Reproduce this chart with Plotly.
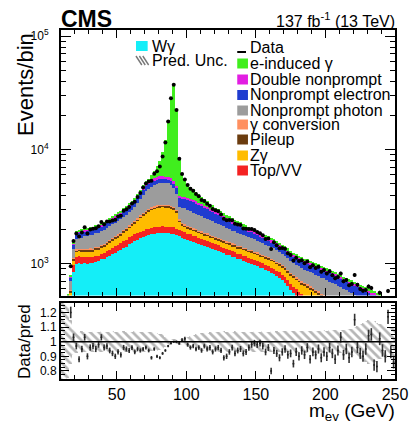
import math
import plotly.graph_objects as go

# ---------------- data (2 GeV bins from 10 to 250 GeV) ----------------
mass = list(range(11, 250, 2))  # bin centres

w_gamma = [60, 150, 300, 420, 840, 995, 1010, 990, 1000, 995,
           1005, 1000, 1035, 1045, 1085, 1100, 1145, 1165, 1210, 1240,
           1280, 1315, 1375, 1410, 1480, 1515, 1575, 1600, 1665, 1700,
           1745, 1770, 1805, 1815, 1845, 1845, 1860, 1845, 1850, 1830,
           1815, 1765, 1735, 1685, 1655, 1605, 1580, 1540, 1520, 1480,
           1460, 1420, 1400, 1360, 1345, 1305, 1285, 1250, 1230, 1195,
           1180, 1145, 1130, 1095, 1085, 1050, 1040, 1005, 995, 965,
           950, 920, 905, 875, 860, 825, 810, 770, 750, 710,
           680, 630, 580, 550, 520, 495, 470, 450, 440, 420,
           405, 388, 374, 354, 342, 324, 314, 298, 290, 274,
           266, 253, 246, 234, 229, 218, 213, 202, 198, 188,
           184, 175, 172, 163, 160, 152, 150, 142, 140, 132]

top_vv = [15, 30, 55, 80, 130, 150, 145, 140, 142, 138,
          140, 134, 133, 124, 123, 127, 139, 156, 166, 184,
          188, 200, 204, 214, 216, 226, 228, 238, 240, 250,
          253, 258, 262, 265, 267, 268, 268, 266, 264, 262,
          258, 252, 246, 240, 234, 228, 222, 216, 210, 204,
          198, 192, 186, 180, 174, 168, 162, 156, 150, 145,
          140, 136, 132, 128, 124, 120, 117, 114, 111, 108,
          105, 102, 100, 98, 96, 94, 92, 90, 88, 86,
          84, 82, 80, 77, 74, 71, 68, 65, 62, 60,
          58, 56, 54, 52, 50, 48, 47, 45, 44, 42,
          41, 40, 38, 37, 36, 35, 34, 33, 32, 31,
          30, 29, 28, 27, 26, 25, 24, 23, 22, 21]

z_gamma = [10, 22, 40, 60, 100, 118, 122, 124, 125, 126,
           128, 132, 138, 145, 152, 160, 170, 182, 195, 208,
           222, 240, 262, 295, 335, 385, 440, 510, 590, 670,
           750, 820, 880, 925, 955, 975, 985, 985, 975, 950,
           900, 780, 330, 230, 195, 180, 170, 163, 158, 155,
           152, 150, 148, 147, 146, 145, 144, 143, 142, 141,
           140, 139, 138, 137, 136, 135, 134, 133, 132, 131,
           130, 129, 128, 127, 126, 125, 124, 123, 122, 121,
           120, 119, 118, 117, 116, 115, 114, 113, 112, 110,
           108, 106, 104, 102, 100, 98, 96, 94, 92, 90,
           88, 86, 84, 82, 80, 78, 76, 74, 72, 70,
           68, 66, 64, 62, 60, 58, 56, 54, 52, 50]

pileup = [3, 7, 12, 18, 38, 50, 55, 60, 62, 64,
          65, 66, 67, 68, 70, 72, 74, 76, 78, 80,
          83, 86, 90, 94, 98, 102, 106, 110, 114, 118,
          121, 124, 127, 129, 130, 131, 131, 130, 128, 125,
          120, 112, 100, 95, 92, 90, 88, 86, 84, 82,
          80, 78, 76, 74, 72, 70, 68, 66, 64, 62,
          60, 58, 57, 56, 55, 54, 53, 52, 51, 50,
          49, 48, 47, 46, 45, 44, 43, 42, 41, 40,
          39, 38, 37, 36, 35, 34, 33, 32, 31, 30,
          29, 28, 27, 26, 25, 25, 24, 23, 23, 22,
          21, 21, 20, 20, 19, 19, 18, 18, 17, 17,
          16, 16, 15, 15, 14, 14, 13, 13, 12, 12]

conversion = [2, 4, 6, 8, 14, 18, 20, 20, 20, 21,
              21, 21, 22, 22, 23, 24, 25, 26, 27, 28,
              29, 30, 31, 32, 33, 34, 36, 38, 40, 42,
              44, 46, 48, 49, 50, 50, 50, 49, 48, 46,
              44, 42, 38, 36, 34, 33, 32, 31, 30, 29,
              28, 27, 26, 25, 25, 24, 24, 23, 23, 22,
              22, 21, 21, 20, 20, 19, 19, 18, 18, 17,
              17, 17, 16, 16, 15, 15, 15, 14, 14, 14,
              13, 13, 13, 12, 12, 12, 11, 11, 11, 10,
              10, 10, 10, 9, 9, 9, 9, 8, 8, 8,
              8, 8, 7, 7, 7, 7, 7, 6, 6, 6,
              6, 6, 6, 5, 5, 5, 5, 5, 5, 5]

np_photon = [15, 35, 70, 110, 220, 300, 335, 355, 390, 400,
             425, 425, 445, 450, 475, 485, 510, 515, 540, 548,
             570, 580, 610, 625, 665, 700, 775, 875, 1015, 1250,
             1400, 1480, 1590, 1670, 1770, 1790, 1830, 1800, 1790, 1710,
             1450, 1150, 700, 780, 840, 820, 800, 760, 740, 700,
             690, 650, 640, 605, 595, 565, 555, 525, 515, 485,
             475, 450, 445, 420, 415, 395, 392, 375, 372, 355,
             330, 320, 312, 300, 292, 282, 272, 262, 250, 240,
             232, 226, 220, 218, 216, 214, 212, 210, 210, 208,
             214, 206, 212, 204, 214, 206, 204, 200, 198, 192,
             192, 184, 186, 176, 176, 170, 170, 160, 162, 154,
             154, 146, 148, 140, 142, 134, 136, 128, 130, 122]

np_electron = [8, 18, 35, 60, 130, 175, 180, 188, 186, 192,
               190, 197, 196, 203, 204, 212, 216, 230, 238, 255,
               260, 278, 288, 308, 318, 338, 352, 383, 402, 432,
               448, 462, 458, 452, 438, 432, 418, 412, 398, 402,
               420, 470, 620, 660, 690, 700, 700, 690, 660, 630,
               600, 570, 540, 510, 480, 450, 420, 390, 360, 335,
               315, 295, 275, 260, 245, 232, 220, 210, 200, 192,
               184, 177, 171, 166, 162, 158, 155, 152, 150, 148,
               147, 146, 145, 144, 143, 142, 141, 140, 139, 138,
               137, 136, 135, 134, 133, 132, 131, 129, 127, 125,
               123, 121, 119, 117, 115, 113, 111, 109, 107, 105,
               103, 101, 99, 97, 95, 93, 91, 89, 87, 85]

double_np = [2, 5, 10, 18, 38, 55, 60, 62, 63, 64,
             65, 67, 70, 73, 76, 80, 84, 88, 92, 96,
             100, 105, 110, 118, 128, 140, 160, 190, 230, 270,
             300, 320, 330, 335, 335, 330, 325, 320, 315, 310,
             300, 260, 150, 140, 135, 132, 130, 128, 126, 124,
             122, 120, 118, 116, 114, 112, 110, 108, 106, 104,
             102, 100, 97, 94, 91, 88, 85, 82, 79, 76,
             73, 70, 67, 64, 62, 60, 58, 56, 54, 52,
             50, 48, 46, 45, 44, 43, 42, 41, 40, 39,
             38, 37, 36, 35, 34, 33, 32, 31, 30, 29,
             28, 27, 26, 26, 25, 25, 24, 24, 23, 23,
             22, 22, 21, 21, 20, 20, 19, 19, 18, 18]

e_induced = [2, 4, 8, 12, 24, 35, 35, 35, 35, 35,
             35, 36, 37, 38, 40, 42, 44, 46, 48, 50,
             52, 55, 58, 62, 68, 75, 85, 100, 125, 160,
             200, 300, 500, 850, 1400, 2200, 3600, 6500, 12500, 23000,
             32000, 17500, 4500, 2200, 1500, 1200, 1000, 880, 760, 660,
             520, 450, 390, 330, 290, 260, 235, 210, 190, 172,
             160, 150, 140, 132, 124, 117, 110, 104, 98, 93,
             88, 84, 80, 76, 72, 69, 66, 63, 60, 57,
             55, 53, 51, 49, 47, 45, 43, 41, 40, 38,
             37, 36, 35, 34, 33, 32, 31, 30, 29, 28,
             27, 26, 26, 25, 24, 24, 23, 22, 22, 21,
             21, 20, 20, 19, 19, 18, 18, 17, 17, 16]

# data / prediction
ratio = [None, None, None, 1.2, 1.03, 0.97, 0.88, 0.95, 1.03, 0.9,
         0.96, 0.97, 0.95, 0.98, 1.03, 0.96, 0.97, 0.94, 0.92, 0.9,
         0.93, 0.91, 0.96, 0.95, 0.94, 0.96, 0.93, 0.95, 0.94, 0.95,
         0.96, 0.94, 0.89, 0.95, 0.9, 0.89, 0.92, 0.94, 0.97, 0.99,
         1.0, 1.0, 0.99, 1.01, 1.02, 0.98, 0.96, 0.97, 0.95, 0.96,
         0.94, 0.97, 0.95, 0.96, 0.93, 0.95, 0.96, 0.94, 0.89, 0.9,
         0.93, 0.96, 0.92, 0.94, 0.95, 0.92, 0.93, 0.96, 0.98, 0.99,
         0.98, 0.99, 0.97, 0.93, 0.96, 0.8, 0.94, 0.92, 0.89, 0.93,
         0.95, 0.91, 0.92, 0.85, 0.93, 0.9, 0.94, 0.91, 0.96, 0.88,
         0.93, 0.91, 0.95, 0.89, 0.93, 0.9, 0.96, 0.92, 0.88, 0.94,
         1.03, 0.91, 0.95, 0.89, 0.93, 1.15, 0.96, 0.92, 0.9, 0.95,
         1.04, 1.05, 0.84, 0.83, 1.02, 0.94, 0.9, 1.17, 0.93, 0.86]

# relative prediction uncertainty (half width of hatched band)
pred_unc = [0.35, 0.3, 0.25, 0.15, 0.09, 0.075, 0.07, 0.072, 0.068, 0.07,
            0.07, 0.071, 0.069, 0.07, 0.072, 0.07, 0.068, 0.07, 0.071, 0.07,
            0.069, 0.07, 0.072, 0.07, 0.068, 0.07, 0.071, 0.07, 0.069, 0.068,
            0.07, 0.068, 0.066, 0.064, 0.06, 0.055, 0.05, 0.035, 0.025, 0.02,
            0.018, 0.018, 0.02, 0.025, 0.03, 0.035, 0.04, 0.045, 0.05, 0.055,
            0.058, 0.06, 0.063, 0.065, 0.067, 0.068, 0.07, 0.07, 0.071, 0.07,
            0.07, 0.07, 0.071, 0.07, 0.069, 0.07, 0.072, 0.07, 0.07, 0.071,
            0.07, 0.07, 0.072, 0.07, 0.07, 0.071, 0.07, 0.072, 0.07, 0.072,
            0.072, 0.073, 0.072, 0.074, 0.073, 0.074, 0.075, 0.074, 0.075, 0.076,
            0.075, 0.076, 0.077, 0.076, 0.078, 0.077, 0.078, 0.079, 0.08, 0.079,
            0.08, 0.082, 0.085, 0.088, 0.09, 0.1, 0.11, 0.12, 0.13, 0.14,
            0.15, 0.15, 0.14, 0.13, 0.12, 0.12, 0.11, 0.1, 0.1, 0.1]

layers = [
    ("Wγ", w_gamma, "#14EEF8"),
    ("Top/VV", top_vv, "#F42222"),
    ("Zγ", z_gamma, "#FFBC00"),
    ("Pileup", pileup, "#6B3C0F"),
    ("γ conversion", conversion, "#FF9060"),
    ("Nonprompt photon", np_photon, "#9C9C9C"),
    ("Nonprompt electron", np_electron, "#1F3CD0"),
    ("Double nonprompt", double_np, "#E21EE2"),
    ("e-induced γ", e_induced, "#40EE1E"),
]
for _, arr, _c in layers:
    assert len(arr) == len(mass), len(arr)
assert len(ratio) == len(mass) and len(pred_unc) == len(mass)

total = [sum(v) for v in zip(*[l[1] for l in layers])]
dx, dy, dr, de = [], [], [], []
for m, r, t in zip(mass, ratio, total):
    if r is None:
        continue
    n = r * t
    dx.append(m)
    dy.append(n)
    dr.append(r)
    de.append(math.sqrt(n) / t)

FONT = "Liberation Sans, Arial, Helvetica, sans-serif"
fig = go.Figure()

for name, arr, col in layers:
    fig.add_trace(go.Bar(x=mass, y=arr, width=2, name=name,
                         marker=dict(color=col, line=dict(width=0)),
                         xaxis="x", yaxis="y", showlegend=False))

fig.add_trace(go.Scatter(x=dx, y=dy, mode="markers", xaxis="x", yaxis="y",
                         marker=dict(color="black", size=4),
                         error_y=dict(type="data", array=[math.sqrt(v) for v in dy],
                                      thickness=1, width=0, color="black"),
                         showlegend=False))

# ratio panel: hatched prediction uncertainty
fig.add_trace(go.Bar(x=mass, y=[2 * u for u in pred_unc], base=[1 - u for u in pred_unc],
                     width=2, xaxis="x2", yaxis="y2", showlegend=False,
                     marker=dict(color="rgba(255,255,255,0)", line=dict(width=0),
                                 pattern=dict(shape="\\", fgcolor="#6e6e6e",
                                              bgcolor="rgba(255,255,255,0)",
                                              size=6, solidity=0.45))))
fig.add_trace(go.Scatter(x=dx, y=dr, mode="markers", xaxis="x2", yaxis="y2",
                         marker=dict(color="#222222", size=2),
                         error_y=dict(type="data", array=de, thickness=1.6, width=0,
                                      color="#333333"),
                         showlegend=False))

axis_common = dict(showline=True, linewidth=2, linecolor="black", mirror="allticks",
                   showgrid=False, zeroline=False, ticks="inside", tickcolor="black",
                   tickwidth=1)

fig.update_layout(
    width=420, height=421,
    margin=dict(l=61, r=16, t=30, b=42),
    paper_bgcolor="white", plot_bgcolor="white",
    barmode="stack", bargap=0, showlegend=False,
    font=dict(family=FONT, color="black"),
    xaxis=dict(domain=[0, 1], anchor="y", range=[10, 250], showticklabels=False,
               tickvals=[50, 100, 150, 200, 250], ticklen=8,
               minor=dict(ticks="inside", ticklen=4, dtick=10, tick0=0, tickcolor="black"),
               **axis_common),
    yaxis=dict(domain=[0.239, 1], anchor="x", type="log",
               range=[math.log10(522), 5.053],
               tickvals=[1e3, 1e4, 1e5],
               ticktext=["10<sup>3</sup>", "10<sup>4</sup>", "10<sup>5</sup>"],
               tickfont=dict(size=12), ticklen=10, ticklabelstandoff=8,
               minor=dict(ticks="inside", ticklen=5, tickcolor="black",
                          tickvals=[600, 700, 800, 900, 2000, 3000, 4000, 5000, 6000,
                                    7000, 8000, 9000, 20000, 30000, 40000, 50000,
                                    60000, 70000, 80000, 90000]),
               **axis_common),
    xaxis2=dict(domain=[0, 1], anchor="y2", range=[10, 250], matches="x",
                tickvals=[50, 100, 150, 200, 250], tickfont=dict(size=16), ticklen=8,
                minor=dict(ticks="inside", ticklen=4, dtick=10, tick0=0, tickcolor="black"),
                **axis_common),
    yaxis2=dict(domain=[0, 0.218], anchor="x2", range=[0.745, 1.265],
                tickvals=[0.8, 0.9, 1.0, 1.1, 1.2],
                ticktext=["0.8", "0.9", "1", "1.1", "1.2"],
                tickfont=dict(size=12), ticklen=8,
                minor=dict(ticks="inside", ticklen=4, dtick=0.025, tick0=0.75,
                           tickcolor="black"),
                **axis_common),
)

fig.add_shape(type="line", xref="x2 domain", yref="y2", x0=0, x1=1, y0=1, y1=1,
              line=dict(color="black", width=1.5))

# ---------- pixel helpers for text / legend ----------
PL, PT, PW, PH = 61, 30, 343, 349
def px(x):
    return (x - PL) / PW
def py(y):
    return (PT + PH - y) / PH

def text(x, y, s, size, xanchor="left", angle=0, bold=False):
    fig.add_annotation(xref="paper", yref="paper", x=px(x), y=py(y), text=s,
                       showarrow=False, xanchor=xanchor, yanchor="middle",
                       textangle=angle, borderpad=0,
                       font=dict(family=FONT, size=size, color="black"))

text(60, 19.5, "<b>CMS</b>", 23)
text(405, 20, "137 fb<sup>-1</sup> (13 TeV)", 16, xanchor="right")
text(24, 84, "Events/bin", 22, xanchor="center", angle=-90)
text(23, 341, "Data/pred", 17, xanchor="center", angle=-90)
text(405, 412, "m<sub>eγ</sub> (GeV)", 19, xanchor="right")

# legend, left column
fig.add_shape(type="rect", xref="paper", yref="paper", x0=px(138), x1=px(150),
              y0=py(51), y1=py(41), fillcolor="#14EEF8", line=dict(width=0))
text(153, 46, "Wγ", 16)
for x0 in (138, 141.5, 145):
    fig.add_shape(type="line", xref="paper", yref="paper", x0=px(x0), y0=py(56),
                  x1=px(x0 + 6), y1=py(65), line=dict(color="#777777", width=1.4))
text(153, 60, "Pred. Unc.", 16)

# legend, right column
rows = [47, 63, 79, 94.5, 110, 124, 139, 155, 170]
fig.add_shape(type="line", xref="paper", yref="paper", x0=px(242), x1=px(251),
              y0=py(52), y1=py(52), line=dict(color="black", width=2))
text(254, rows[0], "Data", 16)
for (name, _arr, col), yr in zip(reversed(layers[1:]), rows[1:]):
    fig.add_shape(type="rect", xref="paper", yref="paper", x0=px(242), x1=px(253),
                  y0=py(yr + 5.5), y1=py(yr - 4.5), fillcolor=col, line=dict(width=0))
    text(254, yr, name, 16)

fig.write_html("out.html")
